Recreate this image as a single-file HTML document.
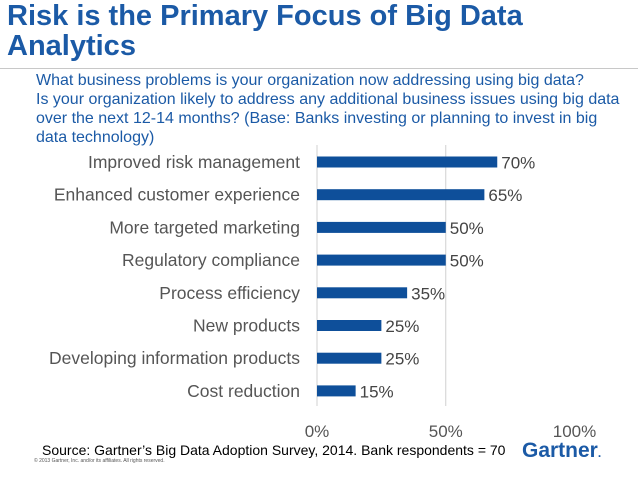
<!DOCTYPE html>
<html><head><meta charset="utf-8"><style>
body{margin:0;width:638px;height:479px;background:#fff;font-family:"Liberation Sans",sans-serif;position:relative;overflow:hidden}
.t{position:absolute;left:7px;top:1px;color:#1b5aa6;font-weight:bold;font-size:29px;line-height:30px}
.s{position:absolute;left:36px;top:71px;color:#1b5aa6;font-size:16px;line-height:19px;width:600px;white-space:nowrap}
.hr{position:absolute;left:0;top:68px;width:638px;height:1px;background:#c8c8c8}
</style></head><body>
<div class="t">Risk is the Primary Focus of Big Data<br>Analytics</div>
<div class="hr"></div>
<div class="s">What business problems is your organization now addressing using big data?<br>Is your organization likely to address any additional business issues using big data<br>over the next 12-14 months? (Base: Banks investing or planning to invest in big<br>data technology)</div>
<svg id="c" width="638" height="479" style="position:absolute;left:0;top:0"></svg>
<div style="position:absolute;left:42px;top:442px;font-size:14px;color:#000">Source: Gartner’s Big Data Adoption Survey, 2014. Bank respondents = 70</div>
<div style="position:absolute;left:34px;top:458px;font-size:5px;color:#555">© 2013 Gartner, Inc. and/or its affiliates. All rights reserved.</div>
<div style="position:absolute;left:522px;top:439px;font-size:21px;font-weight:bold;color:#1b5aa6">Gartner<span style="font-size:12px">.</span></div>
<script>
const categories=["Improved risk management","Enhanced customer experience","More targeted marketing","Regulatory compliance","Process efficiency","New products","Developing information products","Cost reduction"];
const values=[70,65,50,50,35,25,25,15];
const ticks=[0,50,100];
const ns="http://www.w3.org/2000/svg",svg=document.getElementById('c');
const x=v=>317+v*2.575, y=i=>162+i*32.7;
function mk(t,a){const e=document.createElementNS(ns,t);for(const k in a)e.setAttribute(k,a[k]);svg.appendChild(e);return e;}
ticks.forEach(t=>{
 if(t<100){const l=mk('line',{x1:x(t),x2:x(t),y1:145,y2:406,stroke:'#d0d0d0','stroke-width':1});
 
 }
 const tx=mk('text',{x:x(t),y:437,'text-anchor':'middle','font-size':17,fill:'#555','font-family':'Liberation Sans'});tx.textContent=t+'%';
 
 
});
categories.forEach((c,i)=>{
 const lb=mk('text',{x:300,y:y(i)+6,'text-anchor':'end','font-size':17.5,fill:'#555','font-family':'Liberation Sans'});lb.textContent=c;
 
 
 const r=mk('rect',{x:x(0),y:y(i)-5.5,width:x(values[i])-x(0),height:11,fill:'#0e4f9a'});
 
 
 const v=mk('text',{x:x(values[i])+4,y:y(i)+6.5,'font-size':17,fill:'#444','font-family':'Liberation Sans'});v.textContent=values[i]+'%';
 
 
});
</script>
</body></html>
